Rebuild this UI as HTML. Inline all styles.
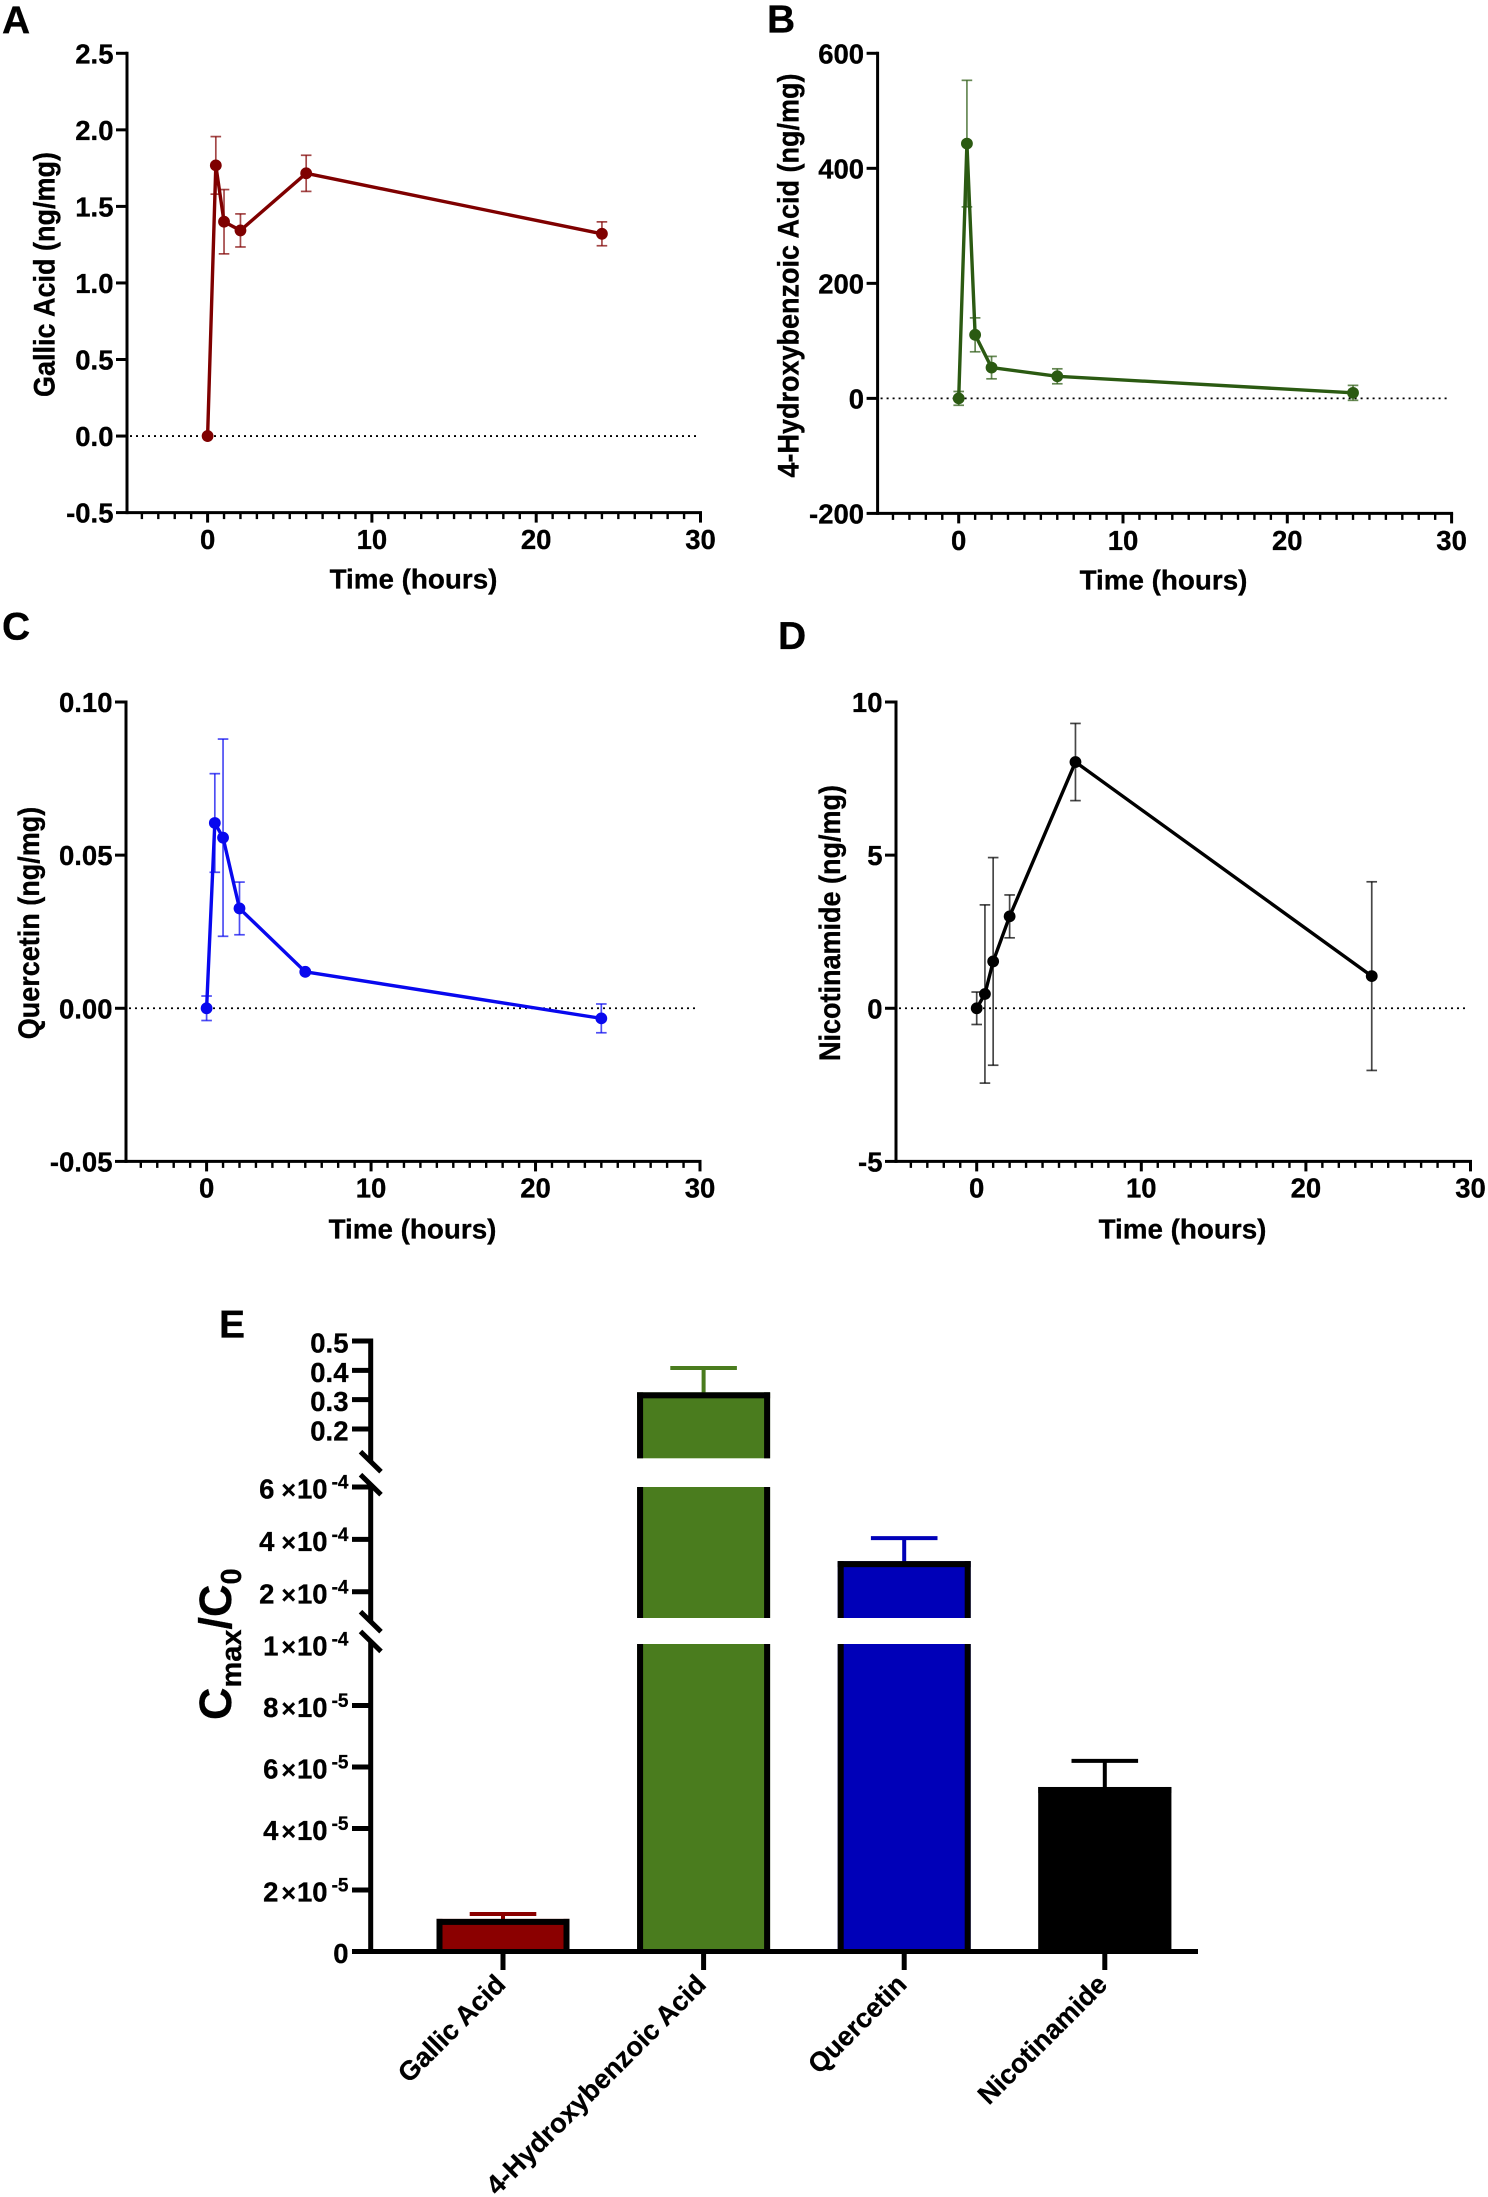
<!DOCTYPE html>
<html lang="en">
<head>
<meta charset="utf-8">
<title>Pharmacokinetic profiles and Cmax/C0 ratios</title>
<style>
html,body{margin:0;padding:0;background:#fff;}
svg{display:block;}
text{font-family:"Liberation Sans",Arial,sans-serif;font-weight:bold;fill:#000;stroke:#000;stroke-width:0.3px;}
</style>
</head>
<body>
<svg id="figure" xmlns="http://www.w3.org/2000/svg" width="1488" height="2197" viewBox="0 0 1488 2197">
  <rect x="0" y="0" width="1488" height="2197" fill="#fff"/>

  <text x="2" y="33.5" font-size="39">A</text>
  <text x="767" y="32.5" font-size="39">B</text>
  <text x="2" y="639.5" font-size="39">C</text>
  <text x="778" y="649" font-size="39">D</text>
  <text x="219" y="1337.5" font-size="39">E</text>

  <g id="panel-a">
    <text transform="translate(54.5 274.5) rotate(-90) scale(1 1.08)" text-anchor="middle" font-size="27">Gallic Acid (ng/mg)</text>
    <text x="413.5" y="588.5" text-anchor="middle" font-size="27.8">Time (hours)</text>
  </g>
  <g id="panel-b">
    <text transform="translate(798.5 275.5) rotate(-90) scale(1 1.08)" text-anchor="middle" font-size="27">4-Hydroxybenzoic Acid (ng/mg)</text>
    <text x="1163.5" y="589.5" text-anchor="middle" font-size="27.8">Time (hours)</text>
  </g>
  <g id="panel-c">
    <text transform="translate(39 923) rotate(-90) scale(1 1.08)" text-anchor="middle" font-size="27">Quercetin (ng/mg)</text>
    <text x="412.5" y="1238.5" text-anchor="middle" font-size="27.8">Time (hours)</text>
  </g>
  <g id="panel-d">
    <text transform="translate(840 923) rotate(-90) scale(1 1.08)" text-anchor="middle" font-size="27">Nicotinamide (ng/mg)</text>
    <text x="1182.5" y="1238.5" text-anchor="middle" font-size="27.8">Time (hours)</text>
  </g>
  <g id="panel-e">
    <text transform="translate(231 1720) rotate(-90)" font-size="45">C<tspan font-size="29" dy="10">max</tspan><tspan dy="-10">/C</tspan><tspan font-size="29" dy="10">0</tspan></text>
  </g>
</svg>

<script>
// ----- Time-course data -----
const timeHours = [0, 0.5, 1, 2, 6, 24];

const gallicMean = [0, 1.768, 1.4, 1.343, 1.716, 1.321];
const gallicErr = [0, 0.188, 0.21, 0.108, 0.118, 0.078];
const gallicTicks = ['-0.5', '0.0', '0.5', '1.0', '1.5', '2.0', '2.5'];

const hydroxyMean = [0, 443, 110.5, 53.5, 38.4, 9.6];
const hydroxyErr = [12, 110, 29.5, 19.5, 13, 13];
const hydroxyTicks = ['-200', '0', '200', '400', '600'];

const quercetinMean = [0, 0.0605, 0.0557, 0.0326, 0.0119, -0.0033];
const quercetinErr = [0.004, 0.0161, 0.0322, 0.0086, 0, 0.0047];
const quercetinTicks = ['-0.05', '0.00', '0.05', '0.10'];

const nicotinamideMean = [0, 0.466, 1.53, 3.0, 8.04, 1.05];
const nicotinamideErr = [0.53, 2.91, 3.39, 0.7, 1.26, 3.08];
const nicotinamideTicks = ['-5', '0', '5', '10'];

const timeTicks = ['0', '10', '20', '30'];

// ----- Cmax/C0 bar data -----
const compounds = ['Gallic Acid', '4-Hydroxybenzoic Acid', 'Quercetin', 'Nicotinamide'];
const ratioMean = [1.06e-5, 0.325, 3.17e-4, 5.35e-5];
const ratioUpper = [1.22e-5, 0.408, 4.05e-4, 6.2e-5];
const ratioTicks = ['0', '2×10^-5', '4×10^-5', '6×10^-5', '8×10^-5', '1×10^-4', '2×10^-4', '4×10^-4', '6×10^-4', '0.2', '0.3', '0.4', '0.5'];

const NS = 'http://www.w3.org/2000/svg';
function mk(tag, attrs, parent) {
  const el = document.createElementNS(NS, tag);
  for (const k in attrs) el.setAttribute(k, attrs[k]);
  parent.appendChild(el);
  return el;
}

function drawLinePanel(parent, geom, color, yTicks, xTicks, means, errs) {
  const sx = v => geom.x0 + (v - 0) * (geom.x30 - geom.x0) / 30;
  const sy = v => geom.yBottom - (v - geom.yMin) * (geom.yBottom - geom.yTop) / (geom.yMax - geom.yMin);
  const axisColor = '#000';

  const zero = mk('line', {x1: geom.axisX + 3, x2: geom.x30 - 4, y1: sy(0), y2: sy(0), stroke: '#000', 'stroke-width': 1.8, 'stroke-dasharray': '2 4'}, parent);
  
  

  const yAxis = mk('line', {x1: geom.axisX, x2: geom.axisX, y1: geom.yTop - 1.5, y2: geom.yBottom + 1.5, stroke: axisColor, 'stroke-width': 3}, parent);
  
  

  const xAxis = mk('line', {x1: geom.axisX, x2: geom.x30 + 1.5, y1: geom.yBottom, y2: geom.yBottom, stroke: axisColor, 'stroke-width': 3}, parent);
  
  

  yTicks.forEach(label => {
    const v = Number(label);
    const t = mk('line', {x1: geom.axisX - 11, x2: geom.axisX, y1: sy(v), y2: sy(v), stroke: axisColor, 'stroke-width': 3}, parent);
    
    
    const txt = mk('text', {x: geom.axisX - 13.5, y: sy(v) + 10, 'text-anchor': 'end', 'font-size': 27.5}, parent);
    txt.textContent = label;
    
    
  });

  for (let u = -4; u < 30; u++) {
    if (u % 10 === 0) continue;
    const m = mk('line', {x1: sx(u), x2: sx(u), y1: geom.yBottom, y2: geom.yBottom + 6.5, stroke: axisColor, 'stroke-width': 2.4}, parent);
    
    
  }
  xTicks.forEach(label => {
    const v = Number(label);
    const t = mk('line', {x1: sx(v), x2: sx(v), y1: geom.yBottom, y2: geom.yBottom + 10, stroke: axisColor, 'stroke-width': 3}, parent);
    
    
    const txt = mk('text', {x: sx(v), y: geom.tickBase, 'text-anchor': 'middle', 'font-size': 27.5}, parent);
    txt.textContent = label;
    
    
  });

  timeHours.forEach((h, i) => {
    if (!errs[i]) return;
    const g = mk('g', {stroke: color, 'stroke-width': 1.7, 'stroke-opacity': 0.72, fill: 'none'}, parent);
    
    
    const up = sy(means[i] + errs[i]);
    const lo = sy(means[i] - errs[i]);
    mk('line', {x1: sx(h), x2: sx(h), y1: up, y2: lo}, g);
    mk('line', {x1: sx(h) - 5.3, x2: sx(h) + 5.3, y1: up, y2: up}, g);
    mk('line', {x1: sx(h) - 5.3, x2: sx(h) + 5.3, y1: lo, y2: lo}, g);
  });

  const pts = timeHours.map((h, i) => sx(h) + ',' + sy(means[i])).join(' ');
  const line = mk('polyline', {points: pts, fill: 'none', stroke: color, 'stroke-width': 3.4, 'stroke-linejoin': 'round'}, parent);
  
  

  timeHours.forEach((h, i) => {
    const c = mk('circle', {cx: sx(h), cy: sy(means[i]), r: 5.9, fill: color}, parent);
    
    
  });
}

drawLinePanel(document.getElementById('panel-a'),
  {axisX: 127, x0: 207.6, x30: 700.5, yTop: 53.3, yBottom: 512.6, yMin: -0.5, yMax: 2.5, tickBase: 549},
  '#7f0000', gallicTicks, timeTicks, gallicMean, gallicErr);
drawLinePanel(document.getElementById('panel-b'),
  {axisX: 877.6, x0: 958.7, x30: 1451.6, yTop: 53.3, yBottom: 513.4, yMin: -200, yMax: 600, tickBase: 550},
  '#2b5a12', hydroxyTicks, timeTicks, hydroxyMean, hydroxyErr);
drawLinePanel(document.getElementById('panel-c'),
  {axisX: 126, x0: 206.6, x30: 700, yTop: 702, yBottom: 1161.4, yMin: -0.05, yMax: 0.10, tickBase: 1197.5},
  '#0808ee', quercetinTicks, timeTicks, quercetinMean, quercetinErr);
drawLinePanel(document.getElementById('panel-d'),
  {axisX: 896, x0: 976.7, x30: 1470.5, yTop: 702, yBottom: 1161.4, yMin: -5, yMax: 10, tickBase: 1197.5},
  '#000000', nicotinamideTicks, timeTicks, nicotinamideMean, nicotinamideErr);

// ----- Broken-axis bar chart -----
function drawBars(parent) {
  const segs = [
    {d0: 0, d1: 1e-4, r0: 1951.5, r1: 1644},
    {d0: 1e-4, d1: 6e-4, r0: 1618, r1: 1487},
    {d0: 0.1, d1: 0.5, r0: 1458.3, r1: 1341}
  ];
  const axisEnds = [[1951.5, 1641.5], [1622, 1485], [1461.5, 1338.5]];
  const axisX = 370.7;
  const barFill = ['#8b0000', '#4a7c1e', '#0000b8', '#000000'];
  const barW = 133;
  const cx = i => 503 + 200.6 * i;
  const scale = (s, v) => s.r0 + (v - s.d0) * (s.r1 - s.r0) / (s.d1 - s.d0);
  const sy = v => {
    for (const s of segs) if (v >= s.d0 && v <= s.d1 * (1 + 1e-9)) return scale(s, v);
    return v > 0.5 ? segs[2].r1 : segs[1].r1;
  };

  compounds.forEach((name, i) => {
    const left = cx(i) - barW / 2;
    const right = cx(i) + barW / 2;
    const v = ratioMean[i];

    const up = sy(ratioUpper[i]);
    const top0 = sy(v);
    const err = mk('g', {stroke: barFill[i], 'stroke-width': 4, fill: 'none'}, parent);
    
    
    mk('line', {x1: cx(i), x2: cx(i), y1: up, y2: top0 + 1}, err);
    mk('line', {x1: cx(i) - 33.3, x2: cx(i) + 33.3, y1: up, y2: up}, err);

    const bar = mk('g', {}, parent);
    
    

    segs.forEach(s => {
      if (v < s.d0) return;
      const top = v <= s.d1 ? scale(s, v) : s.r1;
      mk('rect', {x: left, y: top, width: barW, height: s.r0 - top, fill: barFill[i]}, bar);
      mk('rect', {x: left, y: top, width: 6, height: s.r0 - top, fill: '#000'}, bar);
      mk('rect', {x: right - 6, y: top, width: 6, height: s.r0 - top, fill: '#000'}, bar);
      if (v <= s.d1) mk('rect', {x: left, y: top, width: barW, height: 6, fill: '#000'}, bar);
    });

    const tick = mk('line', {x1: cx(i), x2: cx(i), y1: 1951.5, y2: 1970, stroke: '#000', 'stroke-width': 5}, parent);
    
    

    const label = mk('text', {transform: 'translate(' + (cx(i) + 4) + ' 1986) rotate(-45)', 'text-anchor': 'end', 'font-size': 27}, parent);
    label.textContent = name;
    
    
  });

  axisEnds.forEach(e => {
    const a = mk('line', {x1: axisX, x2: axisX, y1: e[0], y2: e[1], stroke: '#000', 'stroke-width': 5}, parent);
    
    
  });
  [1461.7, 1484.7, 1621.7, 1641.4].forEach(y => {
    const b = mk('line', {x1: 360.5, x2: 381, y1: y - 10, y2: y + 10, stroke: '#000', 'stroke-width': 5}, parent);
    
    
  });

  const xAxis = mk('line', {x1: 352, x2: 1198, y1: 1951.5, y2: 1951.5, stroke: '#000', 'stroke-width': 5}, parent);
  
  

  ratioTicks.forEach(label => {
    const parts = label.split('^');
    const isPow = parts.length === 2;
    const mant = isPow ? parts[0].split('×')[0] : label;
    const val = isPow ? Number(mant) * Math.pow(10, Number(parts[1])) : Number(label);
    const y = sy(val);
    const t = mk('line', {x1: 352, x2: axisX, y1: y, y2: y, stroke: '#000', 'stroke-width': 5}, parent);
    
    
    if (val === 6e-4 || val === 1e-4) t.setAttribute('stroke-opacity', '0');
    const txt = mk('text', {x: 348.5, y: y + 11.5, 'text-anchor': 'end', 'font-size': 27.5}, parent);
    
    
    if (!isPow) {
      txt.textContent = label;
    } else {
      const wide = parts[1] === '-4' && mant !== '1';
      const a = mk('tspan', {}, txt);
      a.textContent = mant;
      const b = mk('tspan', {dx: wide ? 7 : 3, 'font-size': 25}, txt);
      b.textContent = '×';
      const c = mk('tspan', {dx: 1}, txt);
      c.textContent = '10';
      const d = mk('tspan', {dx: 4, dy: -10, 'font-size': 19}, txt);
      d.textContent = parts[1];
    }
  });
}
drawBars(document.getElementById('panel-e'));
</script>
</body>
</html>
